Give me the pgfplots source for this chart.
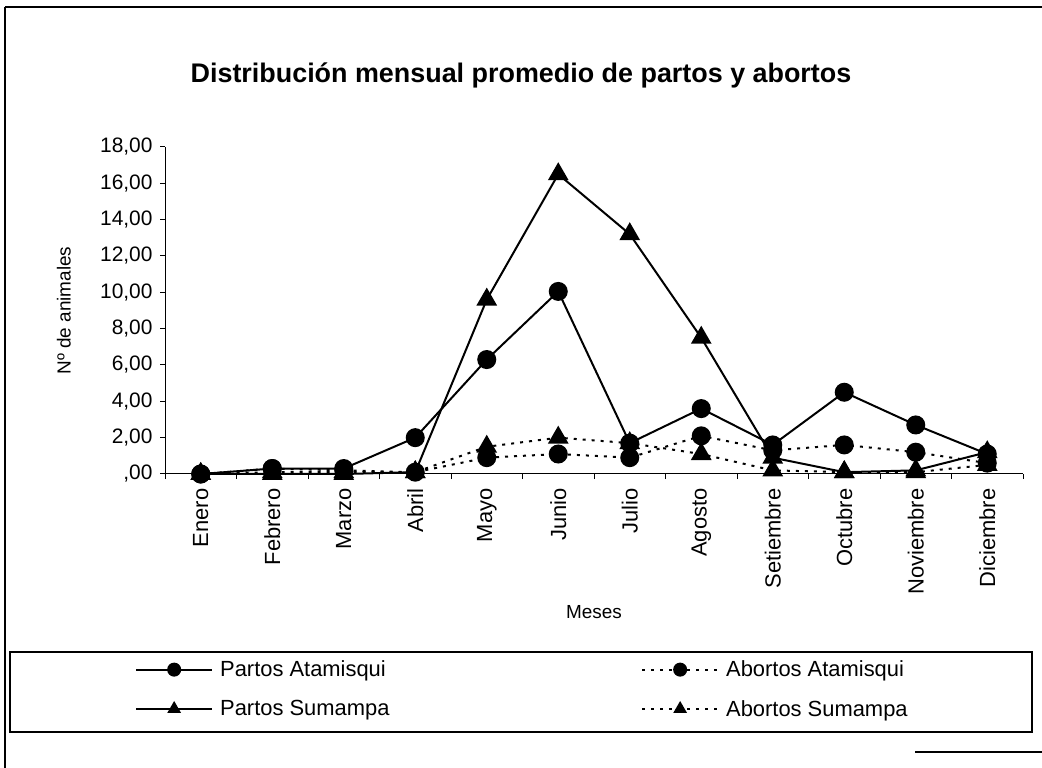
\documentclass[border=0pt]{standalone}
\usepackage{pgfplots}
\pgfplotsset{compat=1.18}
\usepackage{fontspec}
\setmainfont{Liberation Sans}
\begin{document}
\begin{tikzpicture}
\path[use as bounding box] (0bp,0bp) rectangle (1042bp,768bp);
\draw[line width=1.2bp] (5bp,761bp) -- (1042bp,761bp);
\draw[line width=1.2bp] (5bp,761bp) -- (5bp,0bp);
\draw[line width=1.2bp] (915bp,16bp) -- (1042bp,16bp);
\draw[line width=1.2bp] (10bp,116bp) rectangle (1032bp,36bp);
\node[font=\fontsize{27}{31}\selectfont\bfseries] at (521bp,693bp) {Distribución mensual promedio de partos y abortos};
\begin{axis}[
  at={(165bp,294bp)}, anchor=south west,
  scale only axis, width=858bp, height=327bp,
  xmin=-0.5, xmax=11.5, ymin=0, ymax=18,
  axis x line*=bottom, axis y line*=left,
  axis line style={line width=1bp, -},
  xtick={0,...,11},
  xticklabels={Enero,Febrero,Marzo,Abril,Mayo,Junio,Julio,Agosto,Setiembre,Octubre,Noviembre,Diciembre},
  major x tick style={draw=none},
  minor xtick={-0.5,0.5,...,11.5},
  ytick={0,2,...,18},
  yticklabels={{,00},{2,00},{4,00},{6,00},{8,00},{10,00},{12,00},{14,00},{16,00},{18,00}},
  tick align=outside,
  major tick length=5bp, minor tick length=5bp,
  tick style={line width=1bp, black},
  xticklabel style={rotate=90, anchor=east, font=\fontsize{22}{26}\selectfont},
  xticklabel shift=6bp,
  yticklabel style={font=\fontsize{21}{25}\selectfont},
  yticklabel shift=4bp,
  ylabel={Nº de animales},
  ylabel style={at={(axis description cs:-0.118,0.50)}, anchor=center, font=\fontsize{19}{22}\selectfont},
  xlabel={Meses},
  xlabel style={at={(axis description cs:0.5,-0.422)}, anchor=center, font=\fontsize{19}{22}\selectfont},
  legend columns=2,
  legend style={draw=none, fill=none, at={(axis description cs:-0.035,-0.565)}, anchor=north west, font=\fontsize{22}{25}\selectfont, row sep=18bp, inner sep=0pt},
  legend cell align=left,
  legend image code/.code={\draw[mark repeat=2,mark phase=2,#1, mark size=6bp] plot coordinates {(0bp,0bp) (38bp,0bp) (76bp,0bp)};},
  clip=false,
]
\addplot[black, line width=2bp, mark=*, mark size=8.5bp] coordinates {
(0,0) (1,0.3) (2,0.3) (3,2.0) (4,6.3) (5,10.05) (6,1.7) (7,3.6) (8,1.6) (9,4.5) (10,2.7) (11,1.1)};
\addlegendentry{\makebox[424bp][l]{\hspace*{5bp}Partos Atamisqui}}
\addplot[black, line width=2bp, dash pattern=on 3bp off 6bp, mark=*, mark size=8.5bp, mark options={solid}] coordinates {
(0,0) (1,0.3) (2,0.2) (3,0.1) (4,0.9) (5,1.1) (6,0.9) (7,2.1) (8,1.3) (9,1.6) (10,1.2) (11,0.6)};
\addlegendentry{\hspace*{5bp}Abortos Atamisqui}
\addplot[black, line width=2bp, mark=triangle*, mark size=10bp] coordinates {
(0,0) (1,0) (2,0) (3,0.1) (4,9.6) (5,16.5) (6,13.2) (7,7.5) (8,0.9) (9,0.1) (10,0.2) (11,1.2)};
\addlegendentry{\makebox[424bp][l]{\hspace*{5bp}Partos Sumampa}}
\addplot[black, line width=2bp, dash pattern=on 3bp off 6bp, mark=triangle*, mark size=10bp, mark options={solid}] coordinates {
(0,0) (1,0.1) (2,0.1) (3,0.1) (4,1.5) (5,2.0) (6,1.7) (7,1.1) (8,0.2) (9,0.1) (10,0.1) (11,0.5)};
\addlegendentry{\hspace*{5bp}Abortos Sumampa}
\end{axis}
\end{tikzpicture}
\end{document}
